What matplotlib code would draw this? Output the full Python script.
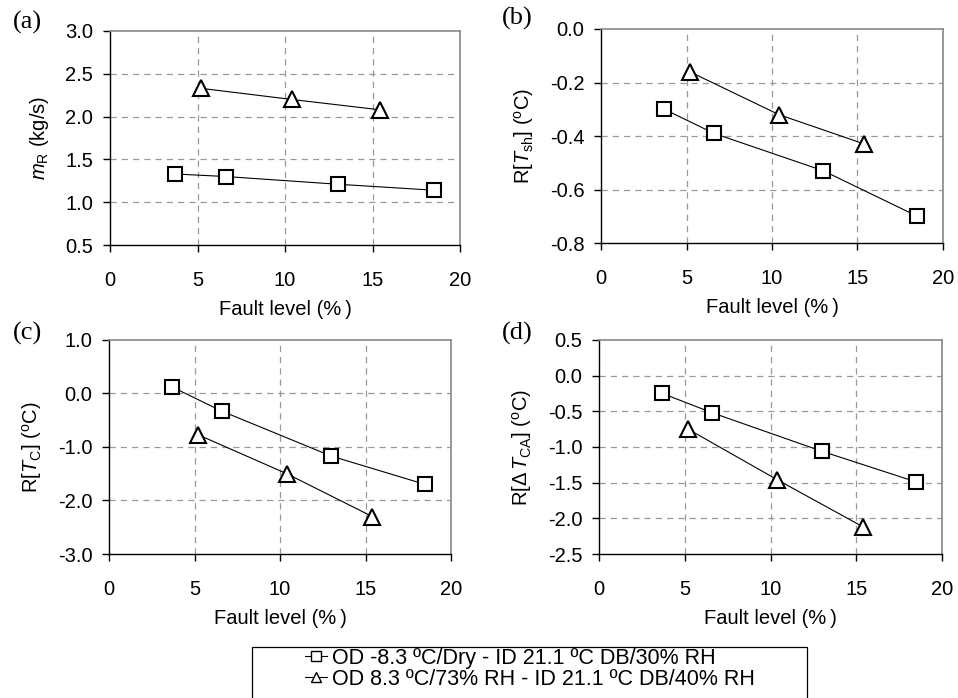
import matplotlib
matplotlib.use("Agg")
import matplotlib.pyplot as plt
from matplotlib.patches import Rectangle
from matplotlib.lines import Line2D

plt.rcParams['font.family'] = ['Liberation Sans', 'DejaVu Sans']
plt.rcParams['mathtext.fontset'] = 'custom'
plt.rcParams['mathtext.rm'] = 'Liberation Sans'
plt.rcParams['mathtext.it'] = 'Liberation Sans:italic'

# Data
x_sq = [3.7, 6.6, 13.0, 18.5]
x_tr = [5.2, 10.4, 15.4]

a_sq = [1.33, 1.30, 1.21, 1.14]
a_tr = [2.33, 2.20, 2.08]
b_sq = [-0.30, -0.39, -0.53, -0.70]
b_tr = [-0.16, -0.32, -0.43]
c_sq = [0.12, -0.33, -1.17, -1.70]
c_tr = [-0.77, -1.50, -2.30]
d_sq = [-0.25, -0.52, -1.06, -1.49]
d_tr = [-0.75, -1.46, -2.12]

label_sq = "OD -8.3 ºC/Dry - ID 21.1 ºC DB/30% RH"
label_tr = "OD 8.3 ºC/73% RH - ID 21.1 ºC DB/40% RH"

panels = [
    ("(a)", r"$m_{\mathrm{R}}$ (kg/s)", a_sq, a_tr, (0.5, 3.0), [0.5, 1.0, 1.5, 2.0, 2.5, 3.0], "{:.1f}"),
    ("(b)", r"R[$T_{\mathrm{sh}}$] ($^{\mathrm{o}}$C)", b_sq, b_tr, (-0.8, 0.0), [-0.8, -0.6, -0.4, -0.2, 0.0], "{:.1f}"),
    ("(c)", r"R[$T_{\mathrm{C}}$] ($^{\mathrm{o}}$C)", c_sq, c_tr, (-3.0, 1.0), [-3.0, -2.0, -1.0, 0.0, 1.0], "{:.1f}"),
    ("(d)", r"R[$\Delta\, T_{\mathrm{CA}}$] ($^{\mathrm{o}}$C)", d_sq, d_tr, (-2.5, 0.5), [-2.5, -2.0, -1.5, -1.0, -0.5, 0.0, 0.5], "{:.1f}"),
]

W, H = 958, 698
fig = plt.figure(figsize=(W / 100, H / 100), dpi=100)

# axes boxes in pixels: left, top, right, bottom
boxes = [(110, 31, 460, 245), (601, 29, 943, 243), (109, 340, 451, 554), (599, 340, 942, 554)]
label_pos = [(13, 22), (502, 18), (13, 333), (502, 333)]

def px2fig(l, t, r, b):
    return [l / W, 1 - b / H, (r - l) / W, (b - t) / H]

fs = 14.5
for (plabel, ylabel, ysq, ytr, ylim, yticks, fmt), box, lp in zip(panels, boxes, label_pos):
    ax = fig.add_axes(px2fig(*box))
    ax.set_xlim(0, 20)
    ax.set_ylim(*ylim)
    ax.set_xticks([0, 5, 10, 15, 20])
    ax.set_yticks(yticks)
    ax.set_yticklabels([fmt.format(v) for v in yticks])
    for v in [5, 10, 15]:
        ax.axvline(v, color='#999999', lw=0.9, ls=(0, (5, 4)), zorder=0)
    for v in yticks[1:-1]:
        ax.axhline(v, color='#999999', lw=0.9, ls=(0, (5, 4)), zorder=0)
    ax.plot(x_sq, ysq, color='black', lw=0.8, marker='s', ms=10, mfc='white',
            mec='black', mew=1.5, zorder=3)
    ax.plot(x_tr, ytr, color='black', lw=0.8, marker='^', ms=11, mfc='white',
            mec='black', mew=1.5, zorder=3)
    for s in ['top', 'right']:
        ax.spines[s].set_color('#888888')
        ax.spines[s].set_linewidth(1.2)
    for s in ['left', 'bottom']:
        ax.spines[s].set_color('black')
        ax.spines[s].set_linewidth(1.0)
    ax.tick_params(axis='both', direction='out', length=5, width=1.0, labelsize=fs)
    ax.tick_params(axis='x', pad=14)
    ax.tick_params(axis='y', pad=7)
    ax.set_xlabel("Fault level (%\u2009)", fontsize=fs, labelpad=7)
    ax.set_ylabel(ylabel, fontsize=fs, labelpad=10)
    fig.text(lp[0] / W, 1 - lp[1] / H, plabel, family='Liberation Serif', fontsize=19,
             ha='left', va='center')

# legend
handles = [
    Line2D([], [], color='black', lw=0.8, marker='s', ms=7, mfc='white', mec='black', mew=1.0),
    Line2D([], [], color='black', lw=0.8, marker='^', ms=7, mfc='white', mec='black', mew=1.0),
]
fig.legend(handles, [label_sq, label_tr], loc='upper left',
           bbox_to_anchor=(305 / W, 1 - 648 / H), frameon=False, fontsize=15.5,
           borderpad=0, borderaxespad=0, handlelength=1.0, handletextpad=0.25,
           labelspacing=0.0)
fig.patches.append(Rectangle((252 / W, 1 - 710 / H), (807 - 252) / W, (710 - 647) / H,
                             transform=fig.transFigure, fill=False, edgecolor='black',
                             lw=0.9, clip_on=False))

fig.savefig("out.png", dpi=100)
